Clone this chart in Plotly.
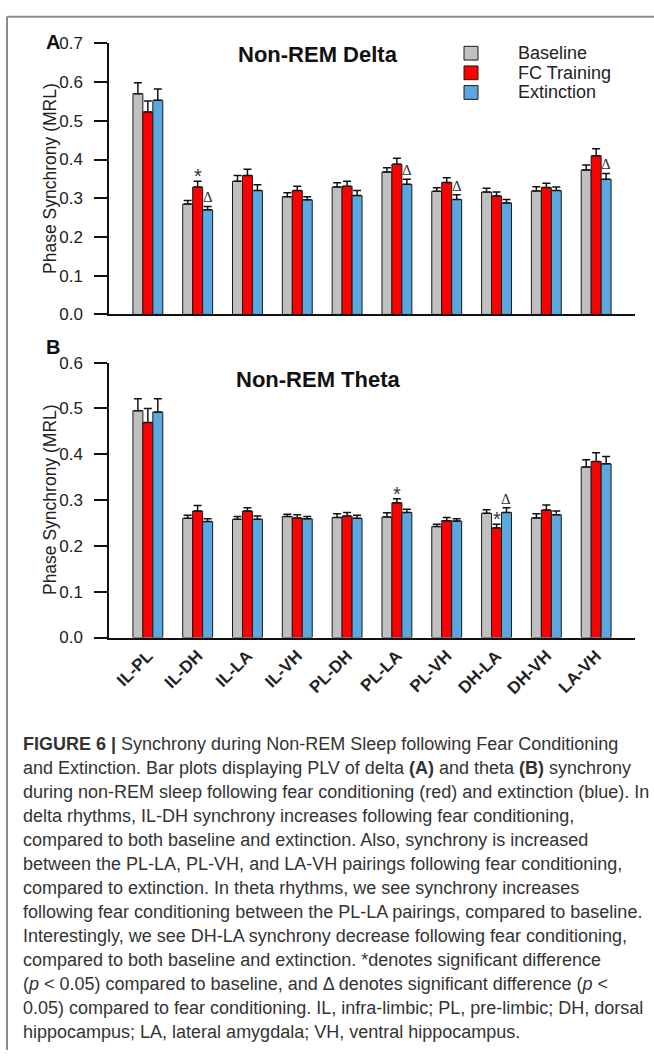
import plotly.graph_objects as go

# ---- data -------------------------------------------------------------
pairs = ["IL-PL", "IL-DH", "IL-LA", "IL-VH", "PL-DH",
         "PL-LA", "PL-VH", "DH-LA", "DH-VH", "LA-VH"]
conditions = ["Baseline", "FC Training", "Extinction"]

# Non-REM delta: mean phase synchrony and upper SEM
delta_baseline = [0.570, 0.285, 0.344, 0.304, 0.329, 0.368, 0.318, 0.316, 0.319, 0.373]
delta_baseline_sem = [0.028, 0.009, 0.015, 0.010, 0.011, 0.011, 0.009, 0.010, 0.011, 0.013]
delta_fc = [0.523, 0.329, 0.359, 0.320, 0.331, 0.388, 0.341, 0.306, 0.328, 0.410]
delta_fc_sem = [0.028, 0.015, 0.016, 0.011, 0.013, 0.015, 0.012, 0.010, 0.011, 0.018]
delta_ext = [0.553, 0.270, 0.320, 0.296, 0.307, 0.336, 0.297, 0.288, 0.320, 0.349]
delta_ext_sem = [0.029, 0.009, 0.015, 0.008, 0.013, 0.013, 0.012, 0.009, 0.009, 0.015]

# Non-REM theta
theta_baseline = [0.495, 0.260, 0.258, 0.264, 0.262, 0.263, 0.242, 0.271, 0.261, 0.372]
theta_baseline_sem = [0.026, 0.007, 0.006, 0.005, 0.008, 0.009, 0.005, 0.008, 0.009, 0.016]
theta_fc = [0.469, 0.276, 0.276, 0.261, 0.265, 0.294, 0.255, 0.239, 0.278, 0.384]
theta_fc_sem = [0.031, 0.012, 0.007, 0.007, 0.008, 0.009, 0.007, 0.008, 0.011, 0.019]
theta_ext = [0.492, 0.253, 0.258, 0.259, 0.260, 0.273, 0.254, 0.273, 0.268, 0.379]
theta_ext_sem = [0.029, 0.006, 0.007, 0.005, 0.007, 0.007, 0.005, 0.010, 0.008, 0.016]

# significance marks: (pair index, condition index, symbol)
delta_marks = [(1, 1, "*"), (1, 2, "Δ"), (5, 2, "Δ"), (6, 2, "Δ"), (9, 2, "Δ")]
theta_marks = [(5, 1, "*"), (7, 1, "*"), (7, 2, "Δ")]

yticks_delta = [0.0, 0.1, 0.2, 0.3, 0.4, 0.5, 0.6, 0.7]
yticks_theta = [0.0, 0.1, 0.2, 0.3, 0.4, 0.5, 0.6]

caption_lines = [
    "<b>FIGURE 6 |</b> Synchrony during Non-REM Sleep following Fear Conditioning",
    "and Extinction. Bar plots displaying PLV of delta <b>(A)</b> and theta <b>(B)</b> synchrony",
    "during non-REM sleep following fear conditioning (red) and extinction (blue). In",
    "delta rhythms, IL-DH synchrony increases following fear conditioning,",
    "compared to both baseline and extinction. Also, synchrony is increased",
    "between the PL-LA, PL-VH, and LA-VH pairings following fear conditioning,",
    "compared to extinction. In theta rhythms, we see synchrony increases",
    "following fear conditioning between the PL-LA pairings, compared to baseline.",
    "Interestingly, we see DH-LA synchrony decrease following fear conditioning,",
    "compared to both baseline and extinction. *denotes significant difference",
    "(<i>p</i> &lt; 0.05) compared to baseline, and Δ denotes significant difference (<i>p</i> &lt;",
    "0.05) compared to fear conditioning. IL, infra-limbic; PL, pre-limbic; DH, dorsal",
    "hippocampus; LA, lateral amygdala; VH, ventral hippocampus.",
]

# ---- layout helpers ----------------------------------------------------
W, H = 654, 1060
FONT = "Liberation Sans, Arial, sans-serif"
colors = ["#c0c0c0", "#ff0000", "#5aa8e0"]
BAR_W = 0.2


def fx(x):
    return x / W


def fy(y):
    return 1 - y / H


fig = go.Figure()

panels = [
    ("x", "y", [delta_baseline, delta_fc, delta_ext],
     [delta_baseline_sem, delta_fc_sem, delta_ext_sem], delta_marks),
    ("x2", "y2", [theta_baseline, theta_fc, theta_ext],
     [theta_baseline_sem, theta_fc_sem, theta_ext_sem], theta_marks),
]

idx = list(range(len(pairs)))
annotations = []
for xa, ya, means, sems, marks in panels:
    for k, (name, m, s) in enumerate(zip(conditions, means, sems)):
        fig.add_trace(go.Bar(
            x=idx, y=m, name=name, xaxis=xa, yaxis=ya, showlegend=False,
            marker=dict(color=colors[k], line=dict(color="#1a1a1a", width=1)),
            error_y=dict(type="data", symmetric=False, array=s,
                         arrayminus=[0] * len(s), color="#111111",
                         thickness=1.5, width=4),
        ))
    for i, k, sym in marks:
        top = means[k][i] + sems[k][i]
        star = sym == "*"
        annotations.append(dict(
            x=i + (k - 1) * BAR_W, y=top, xref=xa, yref=ya,
            text=sym, showarrow=False, xanchor="center", yanchor="bottom",
            yshift=-8 if star else -1,
            font=dict(family=FONT if star else "Liberation Serif, serif",
                      size=20 if star else 15, color="#333333"),
        ))

axis_common = dict(
    showline=True, linecolor="#111111", linewidth=1.5, zeroline=False,
    showgrid=False, mirror=False,
)

x_dom = [fx(109), fx(635)]
fig.update_layout(
    width=W, height=H, margin=dict(l=0, r=0, t=0, b=0),
    paper_bgcolor="white", plot_bgcolor="white",
    barmode="group", bargap=0.4, bargroupgap=0.0,
    font=dict(family=FONT, color="#222222"),
    xaxis=dict(domain=x_dom, anchor="y", range=[-0.78, 9.78],
               showticklabels=False, ticks="", **axis_common),
    yaxis=dict(domain=[fy(311), fy(35)], anchor="x", range=[0, 0.7],
               tickvals=yticks_delta, ticktext=[f"{v:.1f}" for v in yticks_delta],
               ticks="outside", ticklen=13, tickwidth=1.5, tickcolor="#111111",
               ticklabelstandoff=8, tickfont=dict(size=17, color="#222222"),
               **axis_common),
    xaxis2=dict(domain=x_dom, anchor="y2", range=[-0.78, 9.78],
                tickvals=idx, ticktext=[f"<b>{p}</b>" for p in pairs],
                tickangle=-45, ticks="", tickfont=dict(size=17, color="#222222"),
                **axis_common),
    yaxis2=dict(domain=[fy(640), fy(360)], anchor="x2", range=[0, 0.6],
                tickvals=yticks_theta, ticktext=[f"{v:.1f}" for v in yticks_theta],
                ticks="outside", ticklen=13, tickwidth=1.5, tickcolor="#111111",
                ticklabelstandoff=8, tickfont=dict(size=17, color="#222222"),
                **axis_common),
)

# panel letters, titles and y-axis titles
for letter, y_letter, title, y_title, y_mid in [
    ("A", 34, "Non-REM Delta", 46, 173),
    ("B", 344, "Non-REM Theta", 377, 500),
]:
    annotations.append(dict(x=fx(44), y=fy(y_letter), xref="paper", yref="paper",
                            text=f"<b>{letter}</b>", showarrow=False,
                            xanchor="left", yanchor="middle",
                            font=dict(size=20, color="#111111")))
    annotations.append(dict(x=fx(318), y=fy(y_title), xref="paper", yref="paper",
                            text=f"<b>{title}</b>", showarrow=False,
                            xanchor="center", yanchor="middle",
                            font=dict(size=22, color="#111111")))
    annotations.append(dict(x=fx(50), y=fy(y_mid), xref="paper", yref="paper",
                            text="Phase Synchrony (MRL)", showarrow=False,
                            textangle=-90, xanchor="center", yanchor="middle",
                            font=dict(size=17.5, color="#222222")))

# legend
shapes = []
for k, name in enumerate(conditions):
    yc = 45 + 20 * k
    shapes.append(dict(type="rect", xref="paper", yref="paper",
                       x0=fx(464), x1=fx(478), y0=fy(yc + 7), y1=fy(yc - 7),
                       fillcolor=colors[k], line=dict(color="#1a1a1a", width=1)))
    annotations.append(dict(x=fx(516), y=fy(yc), xref="paper", yref="paper",
                            text=name, showarrow=False, xanchor="left",
                            yanchor="middle", font=dict(size=18, color="#222222")))

# caption
for n, line in enumerate(caption_lines):
    annotations.append(dict(x=fx(21), y=fy(748 + 24.5 * n), xref="paper", yref="paper",
                            text=line, showarrow=False, xanchor="left",
                            yanchor="middle",
                            font=dict(size=18, color="#333333")))

# figure frame
shapes.append(dict(type="line", xref="paper", yref="paper",
                   x0=fx(7), x1=1, y0=fy(8), y1=fy(8),
                   line=dict(color="#8c8c8c", width=2)))
shapes.append(dict(type="line", xref="paper", yref="paper",
                   x0=fx(7), x1=fx(7), y0=fy(8), y1=0,
                   line=dict(color="#8c8c8c", width=2)))

fig.update_layout(annotations=annotations, shapes=shapes)
fig.write_html("out.html")
